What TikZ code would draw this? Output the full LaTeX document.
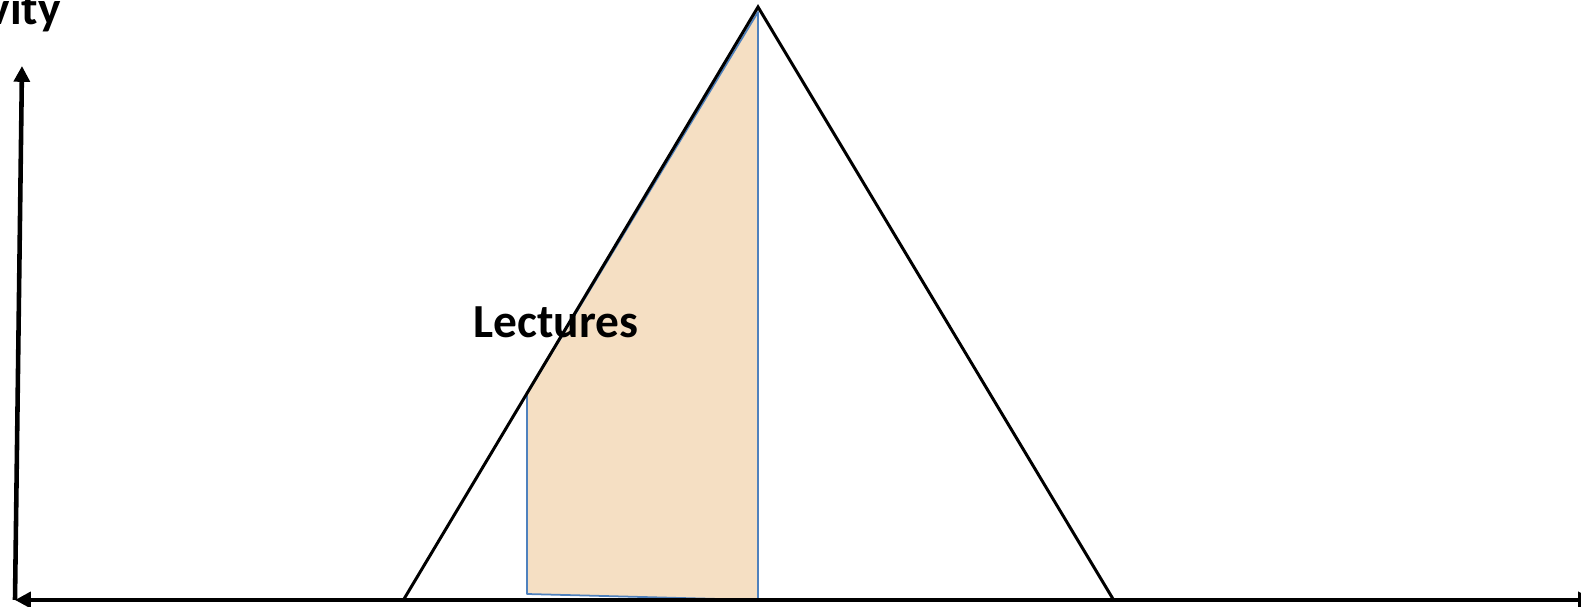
\documentclass[tikz,border=0pt]{standalone}
\usepackage{fontspec}
\setmainfont{Carlito}
\usepackage{xcolor}
\usetikzlibrary{arrows.meta}

\definecolor{peach}{RGB}{245,223,195}
\definecolor{edgeblue}{RGB}{79,129,189}

\begin{document}
\begin{tikzpicture}[
  x=0.02cm, y=-0.02cm,
  axtip/.tip={Triangle[length=9pt, width=9pt]},
  axis/.style={line width=2.6pt, black},
  tri/.style={line width=1.7pt, black, line join=miter},
  part/.style={fill=peach, draw=edgeblue, line width=1pt, line join=round},
  lbl/.style={font=\bfseries\fontsize{27}{32}\selectfont}
]
\useasboundingbox (0,0) rectangle (1581,607);

% Points
\coordinate (origin) at (15,600);
\coordinate (ytop)   at (22,66);
\coordinate (xleft)  at (15,600);
\coordinate (xright) at (1594,600);
\coordinate (tl)     at (404,599);
\coordinate (apex)   at (758,7);
\coordinate (tr)     at (1113,599);
\coordinate (sa)     at (758,12);
\coordinate (sb)     at (758,600);
\coordinate (sc)     at (527,594);
\coordinate (sd)     at (527,394);

% Shaded part
\draw[part] (sa) -- (sb) -- (sc) -- (sd) -- cycle;

% Triangle
\draw[tri] (tl) -- (apex) -- (tr);

% Axes
\draw[axis, -axtip] (origin) -- (ytop);
\draw[axis, axtip-axtip] (xleft) -- (xright);

% Labels
\node[lbl, anchor=base east, inner sep=0pt] (ylabel) at (61,25) {Activity};
\node[lbl, anchor=base, inner sep=0pt] (lect) at (556,338) {Lectures};

\end{tikzpicture}
\end{document}
